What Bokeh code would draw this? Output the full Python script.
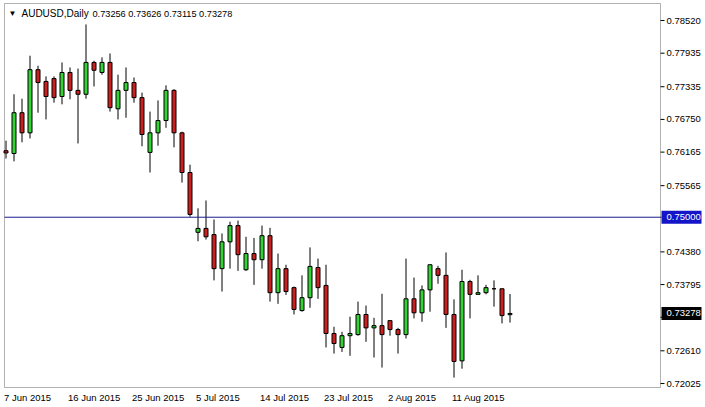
from bokeh.plotting import figure
from bokeh.models import Range1d, BoxAnnotation, ColumnDataSource
from bokeh.core.properties import value
from bokeh.embed import file_html
from bokeh.resources import INLINE

# ---------------- data ----------------
symbol = "AUDUSD,Daily"
last_ohlc = "0.73256 0.73626 0.73115 0.73278"

opens = [0.7619, 0.7614, 0.7687, 0.7651, 0.7764, 0.7743, 0.7748, 0.7716, 0.7759, 0.7727,
         0.7720, 0.7777, 0.7759, 0.7777, 0.7694, 0.7727, 0.7741, 0.7714, 0.7616, 0.7651,
         0.7673, 0.7727, 0.7651, 0.7580, 0.7473, 0.7480, 0.7469, 0.7408, 0.7456, 0.7485,
         0.7406, 0.7435, 0.7424, 0.7467, 0.7365, 0.7408, 0.7374, 0.7333, 0.7356, 0.7410,
         0.7378, 0.7292, 0.7267, 0.7288, 0.7290, 0.7326, 0.7302, 0.7306, 0.7315, 0.7299,
         0.7290, 0.7354, 0.7329, 0.7370, 0.7408, 0.7396, 0.7326, 0.7243, 0.7385, 0.7362,
         0.7365, 0.7372, 0.7372, 0.73256]
highs = [0.7637, 0.7720, 0.7712, 0.7789, 0.7771, 0.7752, 0.7752, 0.7777, 0.7768, 0.7766,
         0.7845, 0.7780, 0.7786, 0.7793, 0.7755, 0.7768, 0.7750, 0.7723, 0.7689, 0.7709,
         0.7736, 0.7729, 0.7653, 0.7594, 0.7516, 0.7530, 0.7496, 0.7471, 0.7492, 0.7494,
         0.7465, 0.7463, 0.7485, 0.7481, 0.7435, 0.7415, 0.7376, 0.7396, 0.7446, 0.7426,
         0.7415, 0.7304, 0.7295, 0.7322, 0.7349, 0.7342, 0.7320, 0.7363, 0.7315, 0.7302,
         0.7426, 0.7392, 0.7378, 0.7415, 0.7413, 0.7437, 0.7353, 0.7406, 0.7388, 0.7396,
         0.7379, 0.7387, 0.7372, 0.73626]
lows = [0.7605, 0.7600, 0.7634, 0.7641, 0.7687, 0.7675, 0.7705, 0.7702, 0.7711, 0.7632,
        0.7712, 0.7734, 0.7755, 0.7689, 0.7675, 0.7678, 0.7705, 0.7627, 0.7580, 0.7628,
        0.7660, 0.7625, 0.7562, 0.7501, 0.7457, 0.7460, 0.7387, 0.7367, 0.7408, 0.7404,
        0.7404, 0.7379, 0.7408, 0.7349, 0.7345, 0.7361, 0.7326, 0.7331, 0.7338, 0.7354,
        0.7267, 0.7256, 0.7259, 0.7252, 0.7288, 0.7277, 0.7249, 0.7231, 0.7288, 0.7256,
        0.7283, 0.7319, 0.7313, 0.7331, 0.7381, 0.7302, 0.7213, 0.7229, 0.7319, 0.7362,
        0.7362, 0.7340, 0.7310, 0.73115]
closes = [0.7615, 0.7687, 0.7651, 0.7764, 0.7741, 0.7716, 0.7714, 0.7759, 0.7727, 0.7720,
          0.7777, 0.7763, 0.7777, 0.7696, 0.7727, 0.7741, 0.7714, 0.7648, 0.7651, 0.7673,
          0.7727, 0.7651, 0.7580, 0.7505, 0.7480, 0.7465, 0.7408, 0.7456, 0.7485, 0.7433,
          0.7435, 0.7424, 0.7467, 0.7365, 0.7408, 0.7367, 0.7335, 0.7356, 0.7412, 0.7374,
          0.7292, 0.7274, 0.7288, 0.7292, 0.7326, 0.7302, 0.7306, 0.7290, 0.7299, 0.7290,
          0.7354, 0.7329, 0.7370, 0.7415, 0.7396, 0.7326, 0.7242, 0.7385, 0.7362, 0.7365,
          0.7374, 0.7372, 0.7324, 0.73278]

date_tick_bars = [0, 8, 16, 24, 32, 40, 48, 56]
date_tick_labels = ["7 Jun 2015", "16 Jun 2015", "25 Jun 2015", "5 Jul 2015",
                    "14 Jul 2015", "23 Jul 2015", "2 Aug 2015", "11 Aug 2015"]

price_ticks = [0.78520, 0.77935, 0.77335, 0.76750, 0.76165, 0.75565,
               0.74380, 0.73795, 0.73210, 0.72610, 0.72025]
level_price = 0.75000
last_price = 0.73278

# ---------------- layout constants (pixels) ----------------
W, H = 705, 407
FRAME_L, FRAME_R, FRAME_T, FRAME_B = 4, 660, 3, 387
BAR_PX, FIRST_BAR_PX = 8.0, 5.5
TOP_TICK_PX, BOT_TICK_PX = 20.0, 383.0
px_per_price = (BOT_TICK_PX - TOP_TICK_PX) / (price_ticks[0] - price_ticks[-1])


def x_at(px):
    return (px - FIRST_BAR_PX) / BAR_PX


def y_at(py):
    return price_ticks[0] - (py - TOP_TICK_PX) / px_per_price


def dy(px):
    return px / px_per_price


FONT = "Liberation Sans"
FS = "9.5px"
GREEN = "#34d234"
RED = "#cc2020"
LEVEL_LINE = "#1c1c90"
LEVEL_BOX = "#1414c8"

idx = list(range(len(opens)))
src = ColumnDataSource(dict(
    x=idx, high=highs, low=lows,
    top=[max(o, c) for o, c in zip(opens, closes)],
    bottom=[min(o, c) for o, c in zip(opens, closes)],
    color=[GREEN if c > o else RED for o, c in zip(opens, closes)],
))

p = figure(width=W, height=H, output_backend="svg", toolbar_location=None,
           x_range=Range1d(x_at(0), x_at(W)), y_range=Range1d(y_at(H), y_at(0)),
           x_axis_location=None, y_axis_location=None, min_border=0)
p.outline_line_color = None
p.background_fill_color = "white"
p.border_fill_color = "white"
p.grid.visible = False

txt = dict(text_font=value(FONT), text_font_size=value(FS), text_baseline="middle",
           text_align="left")

# chart frame
p.add_layout(BoxAnnotation(left=x_at(FRAME_L), right=x_at(FRAME_R),
                           top=y_at(FRAME_T), bottom=y_at(FRAME_B),
                           fill_alpha=0, line_color="black", line_width=1))

# candles
p.segment(x0="x", y0="high", x1="x", y1="low", line_color="black", line_width=1, source=src)
p.vbar(x="x", top="top", bottom="bottom", width=0.5, fill_color="color",
       line_color="black", line_width=1, source=src)

# horizontal level line
p.segment(x0=[x_at(FRAME_L)], y0=[level_price], x1=[x_at(FRAME_R + 1)], y1=[level_price],
          line_color=LEVEL_LINE, line_width=1)

# price scale (right)
p.segment(x0=[x_at(FRAME_R)] * len(price_ticks), y0=price_ticks,
          x1=[x_at(FRAME_R + 4)] * len(price_ticks), y1=price_ticks,
          line_color="black", line_width=1)
p.text(x=[x_at(FRAME_R + 6)] * len(price_ticks), y=price_ticks,
       text=["%.5f" % t for t in price_ticks], text_color="black", **txt)

# price boxes
box_prices = [level_price, last_price]
box_colors = [LEVEL_BOX, "black"]
p.quad(left=[x_at(FRAME_R + 1)] * 2, right=[x_at(W - 4)] * 2,
       top=[v + dy(6.5) for v in box_prices], bottom=[v - dy(6.5) for v in box_prices],
       fill_color=box_colors, line_color=None)
p.text(x=[x_at(FRAME_R + 6)] * 2, y=box_prices, text=["%.5f" % v for v in box_prices],
       text_color="white", **txt)

# date labels
p.text(x=date_tick_bars, y=[y_at(397)] * len(date_tick_bars), text=date_tick_labels,
       x_offset=-2, text_color="black", **txt)

# header
p.text(x=[x_at(8)], y=[y_at(13)], text=["\u25bc"], text_font=value(FONT),
       text_font_size=value("8px"), text_baseline="middle", text_align="left",
       text_color="black")
p.text(x=[x_at(21)], y=[y_at(13)], text=[symbol],
       text_color="black", text_font=value(FONT), text_font_size=value("10px"),
       text_baseline="middle", text_align="left")
p.text(x=[x_at(92)], y=[y_at(13)], text=[last_ohlc],
       text_color="black", text_font=value(FONT), text_font_size=value("9.2px"),
       text_baseline="middle", text_align="left")

open("out.html", "w").write(file_html(p, INLINE))
